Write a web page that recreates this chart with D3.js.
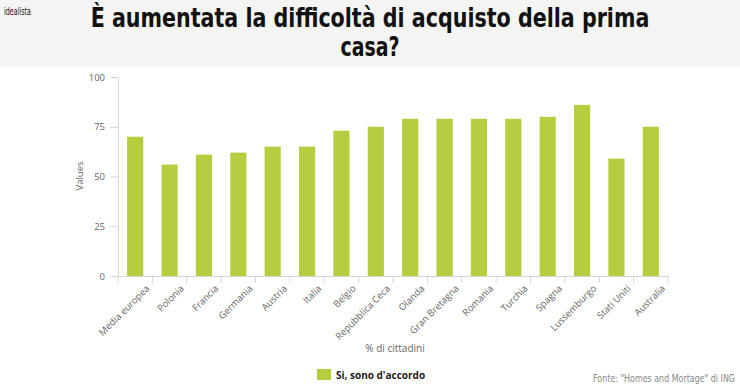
<!DOCTYPE html>
<html>
<head>
<meta charset="utf-8">
<script src="https://cdn.jsdelivr.net/npm/d3@7"></script>
<style>
  body { margin: 0; background: #fff; }
  svg { display: block; }
</style>
</head>
<body>
<svg id="chart" width="740" height="389"></svg>
<script>
// categorie e valori (% di cittadini che rispondono "Si")
var paesi = ["Media europea", "Polonia", "Francia", "Germania", "Austria", "Italia", "Belgio",
  "Repubblica Ceca", "Olanda", "Gran Bretagna", "Romania", "Turchia", "Spagna",
  "Lussemburgo", "Stati Uniti", "Australia"];
var valori = [70, 56, 61, 62, 65, 65, 73, 75, 79, 79, 79, 79, 80, 86, 59, 75];
var yTicks = [0, 25, 50, 75, 100];

var verde = "#b7cc3e";
var grigioAsse = "#d6d6d6";
var grigioTesto = "#666";
var narrow = "'DejaVu Sans Condensed', 'Liberation Sans Narrow', sans-serif";

var svg = d3.select("#chart");

// stringe orizzontalmente un testo fino alla larghezza voluta
function fit(sel, w) {
  var l = sel.node().getComputedTextLength();
  var k = Math.min(1, w / l);
  var x = +sel.attr("x"), y = +sel.attr("y");
  sel.attr("transform", "translate(" + x + "," + y + ") scale(" + k + ",1) translate(" + (-x) + "," + (-y) + ")");
}

// fascia del titolo
svg.append("rect").attr("x", 0).attr("y", 0).attr("width", 740).attr("height", 67).attr("fill", "#f4f4f2");
svg.append("text").attr("x", 4).attr("y", 15)
  .style("font-family", narrow)
  .style("font-size", "11px").attr("fill", "#111").text("idealista")
  .call(fit, 27);
svg.append("text").attr("x", 370).attr("y", 27).attr("text-anchor", "middle")
  .style("font-family", narrow)
  .style("font-weight", "bold").style("font-size", "26px").attr("fill", "#111")
  .text("È aumentata la difficoltà di acquisto della prima")
  .call(fit, 559);
svg.append("text").attr("x", 370).attr("y", 56).attr("text-anchor", "middle")
  .style("font-family", narrow)
  .style("font-weight", "bold").style("font-size", "26px").attr("fill", "#111")
  .text("casa?")
  .call(fit, 59);

var x = d3.scaleBand().domain(paesi).range([118, 668]).paddingInner(0.53).paddingOuter(0.265);
var y = d3.scaleLinear().domain([0, 100]).range([276, 77]);

// barre
svg.append("g").selectAll("rect")
  .data(valori)
  .enter()
  .append("rect")
  .attr("x", function(d, i) { return x(paesi[i]); })
  .attr("y", function(d) { return y(d); })
  .attr("width", x.bandwidth())
  .attr("height", function(d) { return y(0) - y(d); })
  .attr("fill", verde);

// asse y
var gy = svg.append("g").attr("transform", "translate(118,0)")
  .call(d3.axisLeft(y).tickValues(yTicks).tickSize(8).tickPadding(5));
gy.select(".domain").attr("stroke", grigioAsse);
gy.selectAll(".tick line").attr("stroke", grigioAsse);
gy.selectAll(".tick text").attr("fill", grigioTesto)
  .style("font-family", "'Open Sans', sans-serif").style("font-size", "9.5px");

// asse x, tacche tra le categorie
var gx = svg.append("g").attr("transform", "translate(0,276)")
  .call(d3.axisBottom(x).tickSize(0).tickPadding(6));
gx.select(".domain").attr("stroke", grigioAsse);
gx.selectAll(".tick text")
  .attr("fill", grigioTesto)
  .style("font-family", "'Open Sans', sans-serif").style("font-size", "9.5px")
  .attr("text-anchor", "end")
  .attr("transform", "translate(6,4) rotate(-45)");
var step = x.step();
var bordi = d3.range(paesi.length + 1).map(function(i) { return 118 + i * step; });
gx.selectAll(".sep").data(bordi).enter().append("line")
  .attr("class", "sep")
  .attr("x1", function(d) { return d; }).attr("x2", function(d) { return d; })
  .attr("y1", 0).attr("y2", 7)
  .attr("stroke", grigioAsse);

// titoli assi
svg.append("text").attr("transform", "translate(83,176) rotate(-90)")
  .attr("text-anchor", "middle").attr("fill", grigioTesto)
  .style("font-family", "'Open Sans', sans-serif").style("font-size", "9.5px").text("Values");
svg.append("text").attr("x", 395).attr("y", 352).attr("text-anchor", "middle")
  .attr("fill", grigioTesto)
  .style("font-family", "'Open Sans', sans-serif").style("font-size", "10px").text("% di cittadini");

// legenda
svg.append("rect").attr("x", 317).attr("y", 369).attr("width", 14).attr("height", 11).attr("fill", verde);
svg.append("text").attr("x", 336).attr("y", 378.5).attr("fill", "#222")
  .style("font-family", "'Open Sans', sans-serif").style("font-weight", "bold").style("font-size", "10px")
  .text("Si, sono d'accordo");

// fonte
svg.append("text").attr("x", 735).attr("y", 382).attr("text-anchor", "end").attr("fill", "#888")
  .style("font-family", narrow)
  .style("font-size", "11px").text("Fonte: \"Homes and Mortage\" di ING")
  .call(fit, 142);
</script>
</body>
</html>
